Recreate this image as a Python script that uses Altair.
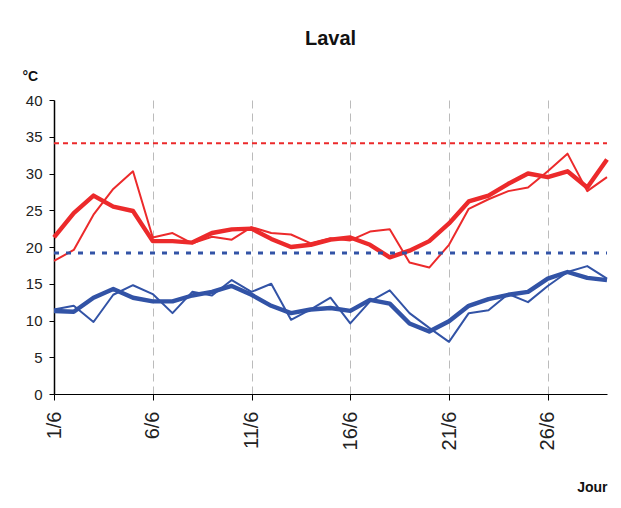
import altair as alt
import pandas as pd

# Day of June (1/6 .. 29/6)
days = list(range(1, 30))

# Red series (maximum temperatures)
tmax_thick = [21.3, 24.6, 27.0, 25.5, 24.9, 20.8, 20.8, 20.6, 21.9, 22.4,
              22.5, 21.1, 20.0, 20.3, 21.0, 21.3, 20.3, 18.6, 19.5, 20.8,
              23.2, 26.2, 27.0, 28.6, 30.0, 29.5, 30.3, 28.1, 31.9]
tmax_thin = [18.1, 19.6, 24.4, 27.9, 30.3, 21.3, 21.9, 20.5, 21.4, 21.0,
             22.7, 21.9, 21.7, 20.5, 21.2, 20.9, 22.1, 22.4, 17.9, 17.2,
             20.3, 25.2, 26.5, 27.6, 28.1, 30.3, 32.7, 27.6, 29.5]

# Blue series (minimum temperatures)
tmin_thick = [11.3, 11.2, 13.1, 14.3, 13.1, 12.6, 12.6, 13.4, 13.9, 14.7,
              13.5, 12.0, 11.0, 11.5, 11.7, 11.3, 12.8, 12.3, 9.6, 8.5,
              9.9, 12.0, 12.9, 13.5, 13.9, 15.7, 16.6, 15.8, 15.5]
tmin_thin = [11.5, 12.0, 9.8, 13.5, 14.8, 13.6, 11.0, 13.9, 13.4, 15.5,
             13.9, 15.0, 10.1, 11.5, 13.1, 9.6, 12.6, 14.1, 11.0, 9.0,
             7.1, 11.0, 11.4, 13.6, 12.5, 14.7, 16.6, 17.4, 15.7]

# Reference (dashed) levels
red_level = 34.1
blue_level = 19.2

tick_days = [1, 6, 11, 16, 21, 26]
y_ticks = [0, 5, 10, 15, 20, 25, 30, 35, 40]

RED = "#EC2A2B"
BLUE = "#3253A6"
FONT = "Liberation Sans"

df = pd.DataFrame({
    "day": days,
    "tmax_thick": tmax_thick,
    "tmax_thin": tmax_thin,
    "tmin_thick": tmin_thick,
    "tmin_thin": tmin_thin,
})

ref_red = pd.DataFrame({"day": [days[0]], "day_end": [days[-1]], "value": [red_level]})
ref_blue = pd.DataFrame({"day": [days[0]], "day_end": [days[-1]], "value": [blue_level]})

x_axis = alt.Axis(
    values=tick_days,
    labelExpr="datum.value + '/6'",
    labelAngle=-90,
    labelAlign="right",
    labelBaseline="middle",
    labelFontSize=20,
    labelColor="#222222",
    labelPadding=11,
    tickSize=6,
    tickColor="black",
    domainColor="black",
    domainWidth=1.2,
    grid=True,
    gridColor="#BBBBBB",
    gridDash=[8, 5],
    gridWidth=1,
    title="Jour",
    titleAnchor="end",
    titleAlign="right",
    titleBaseline="middle",
    titleX=553,
    titleY=93,
    titleFontSize=14,
    titleFontWeight="bold",
    titleColor="#111111",
)

y_axis = alt.Axis(
    values=y_ticks,
    grid=False,
    labelFontSize=15,
    labelColor="#222222",
    labelPadding=7,
    tickSize=5,
    tickColor="black",
    domainColor="black",
    domainWidth=1.5,
    title="°C",
    titleAngle=0,
    titleAlign="left",
    titleBaseline="middle",
    titleX=-32,
    titleY=-24,
    titleFontSize=14,
    titleFontWeight="bold",
    titleColor="#111111",
)

x_scale = alt.Scale(domain=[1, 29], nice=False, zero=False)
y_scale = alt.Scale(domain=[0, 40], nice=False)


def line(field, color, width):
    return alt.Chart(df).mark_line(color=color, strokeWidth=width, strokeJoin="round").encode(
        x=alt.X("day:Q", scale=x_scale, axis=x_axis),
        y=alt.Y(f"{field}:Q", scale=y_scale, axis=y_axis),
    )


def rule(data, color, width, dash):
    return alt.Chart(data).mark_rule(color=color, strokeWidth=width, strokeDash=dash).encode(
        x=alt.X("day:Q", scale=x_scale, axis=x_axis),
        x2="day_end:Q",
        y=alt.Y("value:Q", scale=y_scale, axis=y_axis),
    )


chart = alt.layer(
    line("tmax_thin", RED, 2),
    line("tmin_thin", BLUE, 2),
    line("tmax_thick", RED, 4.4),
    line("tmin_thick", BLUE, 4.4),
    rule(ref_red, RED, 2, [5, 4]),
    rule(ref_blue, BLUE, 3, [5, 7]),
).properties(
    width=553,
    height=294,
    title=alt.TitleParams("Laval", fontSize=20, fontWeight="bold", font=FONT,
                          anchor="middle", offset=20, color="#111111"),
    autosize=alt.AutoSizeParams(type="none"),
    padding={"left": 46, "top": 92, "right": 6, "bottom": 106},
    background="white",
).configure_view(
    stroke=None
).configure_axis(
    labelFont=FONT,
    titleFont=FONT,
)

chart.save("out.html", embed_options={"renderer": "svg", "actions": False})
